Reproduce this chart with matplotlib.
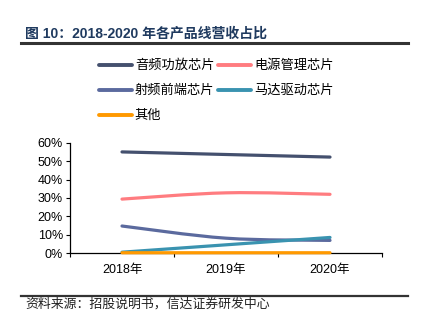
import matplotlib
matplotlib.use("Agg")
import matplotlib.pyplot as plt
from matplotlib.path import Path
from matplotlib.patches import PathPatch
from matplotlib.lines import Line2D
import numpy as np

plt.rcParams['font.family'] = ['Liberation Sans', 'Noto Sans CJK SC', 'DejaVu Sans']

# ── data: revenue share per product line (%) ─────────────────────────────
years = ["2018年", "2019年", "2020年"]
names = ["音频功放芯片", "电源管理芯片", "射频前端芯片", "马达驱动芯片", "其他"]
audio_amp = [55.0, 53.6, 52.2]
power_mgmt = [29.4, 32.8, 32.0]
rf_front = [14.8, 8.2, 7.0]
motor_drv = [0.6, 4.6, 8.6]
others = [0.3, 0.3, 0.3]
series = [audio_amp, power_mgmt, rf_front, motor_drv, others]
colors = ["#44506E", "#FF7C80", "#5B6A9E", "#3A93B0", "#FF9900"]


def smooth_path(xs, ys):
    # cubic Bezier segments through the points (Catmull-Rom style handles)
    pts = np.column_stack([xs, ys]).astype(float)
    ext = np.vstack([pts[0], pts, pts[-1]])
    verts = [tuple(pts[0])]
    codes = [Path.MOVETO]
    for i in range(len(pts) - 1):
        p0, p1, p2, p3 = ext[i], ext[i + 1], ext[i + 2], ext[i + 3]
        c1 = p1 + (p2 - p0) / 6
        c2 = p2 - (p3 - p1) / 6
        verts += [tuple(c1), tuple(c2), tuple(p2)]
        codes += [Path.CURVE4] * 3
    return Path(verts, codes)


fig = plt.figure(figsize=(4.3, 3.23), dpi=100)
ax = fig.add_axes([0.1628, 0.2158, 0.7256, 0.3424])

x = np.arange(len(years))
for vals, c in zip(series, colors):
    patch = PathPatch(smooth_path(x, vals), facecolor="none", edgecolor=c,
                      lw=2.3, capstyle="round", zorder=3, clip_on=False)
    ax.add_patch(patch)

ax.set_xlim(-0.5, 2.5)
ax.set_ylim(0, 60)
ax.set_yticks(range(0, 61, 10))
ax.set_yticklabels([f"{v}%" for v in range(0, 61, 10)], fontsize=9)
ax.set_xticks([-0.5, 0.5, 1.5, 2.5])
ax.set_xticklabels([])
ax.set_xticks(x, minor=True)
ax.set_xticklabels(years, minor=True, fontsize=9)
ax.tick_params(axis="x", which="minor", length=0, pad=8)
ax.tick_params(axis="both", which="major", length=3, width=0.8, direction="out")
ax.tick_params(axis="y", pad=2)
for s in ["top", "right"]:
    ax.spines[s].set_visible(False)
for s in ["left", "bottom"]:
    ax.spines[s].set_linewidth(0.9)

# legend filled row by row: two columns, five entries
handles = [Line2D([], [], color=c, lw=2.8, solid_capstyle="round") for c in colors]
order = [0, 2, 4, 1, 3]
fig.legend([handles[i] for i in order], [names[i] for i in order],
           loc="upper left", bbox_to_anchor=(0.217, 0.832), ncol=2,
           frameon=False, fontsize=9.5, handlelength=2.5, handletextpad=0.25,
           columnspacing=0.3, labelspacing=0.97, borderaxespad=0)

# title, rules and source note
fig.text(0.058, 0.895, "图 10：2018-2020 年各产品线营收占比", fontsize=10,
         fontweight="bold", color="#1F3A5F", va="center", ha="left")
fig.add_artist(Line2D([0.049, 0.949], [0.866, 0.866], color="#333333", lw=2.2))
fig.add_artist(Line2D([0.049, 0.949], [0.083, 0.083], color="#333333", lw=1.6))
fig.text(0.058, 0.058, "资料来源：招股说明书，信达证券研发中心", fontsize=9.3,
         color="#222222", va="center", ha="left", style="italic")

fig.savefig("out.png", dpi=100)
